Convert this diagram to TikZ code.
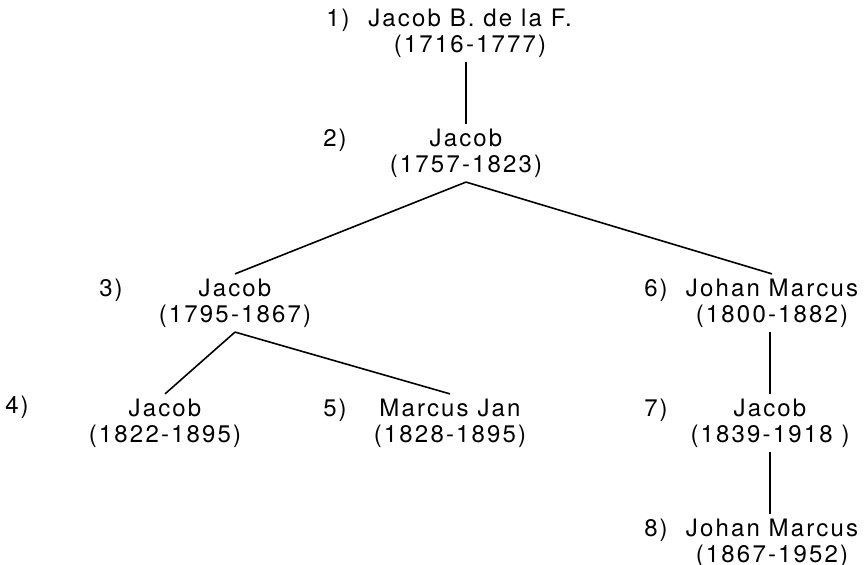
\documentclass[tikz,border=0pt]{standalone}
\usepackage{fontspec}
\newfontfamily\treefont[LetterSpace=9]{TeX Gyre Heros}
\begin{document}
\begin{tikzpicture}[x=0.5pt,y=-0.5pt,
    person/.style={align=center,inner sep=2pt,font=\treefont\fontsize{12}{13}\selectfont},
    number/.style={inner sep=0pt,font=\treefont\fontsize{12}{13}\selectfont}]
    \useasboundingbox (0,0) rectangle (864,565);
    \begin{scope}[line width=0.8pt]

    \node [person] (j1)  at (470,33)  {Jacob B. de la F.\\(1716-1777)};
    \node [person] (j2)  at (466,153) {Jacob\\(1757-1823)};
    \node [person] (j3)  at (235,303) {Jacob\\(1795-1867)};
    \node [person] (j4)  at (165,423) {Jacob\\(1822-1895)};
    \node [person] (mj5) at (450,423) {Marcus Jan\\(1828-1895)};
    \node [person] (jm6) at (772,303) {Johan Marcus\\(1800-1882)};
    \node [person] (j7)  at (770,423) {Jacob\\(1839-1918 )};
    \node [person] (jm8) at (772,543) {Johan Marcus\\(1867-1952)};

    \foreach \n/\x/\y in {1/338/20,2/335/140,3/111/290,4/17/407,
                          5/335/410,6/656/290,7/656/410,8/656/530}{%
        \node [number] (nr\n) at (\x,\y) {\n)};}

    \draw (j2.north |- j1.south) -- (j2.north);
    \draw (j2.south) -- (j3.north);
    \draw (j2.south) -- (jm6.north);
    \draw (j3.south) -- (j4.north);
    \draw (j3.south) -- (mj5.north);
    \draw (j7.north |- jm6.south) -- (j7.north);
    \draw (j7.south) -- (j7.south |- jm8.north);
\end{scope}
\end{tikzpicture}
\end{document}
